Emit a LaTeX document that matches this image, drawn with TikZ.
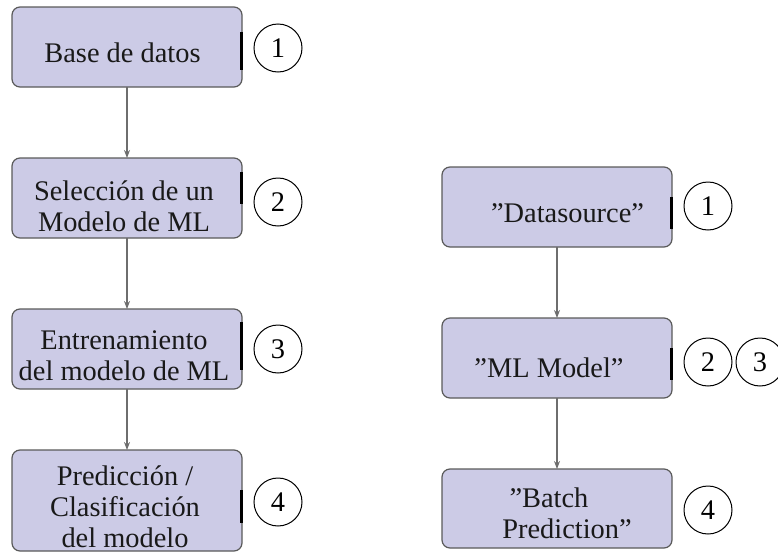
\documentclass[tikz,border=0pt]{standalone}
\usepackage{fontspec}
\setmainfont{Liberation Serif}
\usetikzlibrary{arrows.meta}
\definecolor{boxfill}{HTML}{CCCBE6}
\definecolor{boxline}{HTML}{5A5A5A}
\definecolor{flowline}{HTML}{6E6E6E}
\begin{document}
\begin{tikzpicture}[x=0.5pt,y=-0.5pt,
  stepbox/.style={draw=boxline, line width=0.6pt, fill=boxfill,
    rounded corners=4pt, minimum width=115pt, minimum height=40pt,
    inner sep=0pt, outer sep=0pt},
  steptext/.style={inner sep=0pt, align=center, text=black!90,
    font=\fontsize{14.2}{15.5}\selectfont},
  stepnum/.style={circle, draw=black, line width=0.5pt, minimum size=24pt,
    inner sep=0pt, font=\fontsize{14.2}{15.5}\selectfont},
  flow/.style={draw=flowline, line width=0.9pt, -{Stealth[length=4pt,width=3pt]}},
  edgemark/.style={line width=1.1pt, black}]
\useasboundingbox (0,0) rectangle (778,552);

% ---- left column: general workflow ----
\node[stepbox] (l1) at (127,47) {};
\node[stepbox] (l2) at (127,198) {};
\node[stepbox] (l3) at (127,349) {};
\node[stepbox, minimum height=50.5pt] (l4) at (127,500.5) {};

\node[steptext] (tl1) at (122.5,53) {Base de datos};
\node[steptext] (tl2) at (124,206) {Selección de un\\Modelo de ML};
\node[steptext] (tl3) at (124,356) {Entrenamiento\\del modelo de ML};
\node[steptext] (tl4) at (125,507) {Predicción /\\Clasificación\\del modelo};

\draw[edgemark] ([shift={(-0.5,25)}]l1.north east) -- ([shift={(-0.5,63)}]l1.north east);
\draw[edgemark] ([shift={(-0.5,14)}]l2.north east) -- ([shift={(-0.5,46)}]l2.north east);
\draw[edgemark] ([shift={(-0.5,13)}]l3.north east) -- ([shift={(-0.5,61)}]l3.north east);
\draw[edgemark] ([shift={(-0.5,40)}]l4.north east) -- ([shift={(-0.5,73)}]l4.north east);

\draw[flow] (l1.south) -- (l2.north);
\draw[flow] (l2.south) -- (l3.north);
\draw[flow] (l3.south) -- (l4.north);

\node[stepnum] (n1) at (278,48) {1};
\node[stepnum] (n2) at (278,202) {2};
\node[stepnum] (n3) at (278,349) {3};
\node[stepnum] (n4) at (278,502) {4};

% ---- right column: service workflow ----
\node[stepbox] (r1) at (557,207) {};
\node[stepbox] (r2) at (557,358) {};
\node[stepbox, minimum height=39.5pt] (r3) at (557,508.5) {};

\node[steptext] (tr1) at (567.5,213) {”Datasource”};
\node[steptext] (tr2) at (549,368) {”ML Model”};
\node[steptext] (tr3) at (557,513) {”Batch\hspace*{8pt}\\\hspace*{10pt}Prediction”};

\draw[edgemark] ([shift={(-0.5,30)}]r1.north east) -- ([shift={(-0.5,62)}]r1.north east);
\draw[edgemark] ([shift={(-0.5,30)}]r2.north east) -- ([shift={(-0.5,62)}]r2.north east);

\draw[flow] (r1.south) -- (r2.north);
\draw[flow] (r2.south) -- (r3.north);

\node[stepnum] (m1) at (708,206) {1};
\node[stepnum] (m2) at (708,362) {2};
\node[stepnum] (m3) at (760,362) {3};
\node[stepnum] (m4) at (708,510) {4};
\end{tikzpicture}
\end{document}
